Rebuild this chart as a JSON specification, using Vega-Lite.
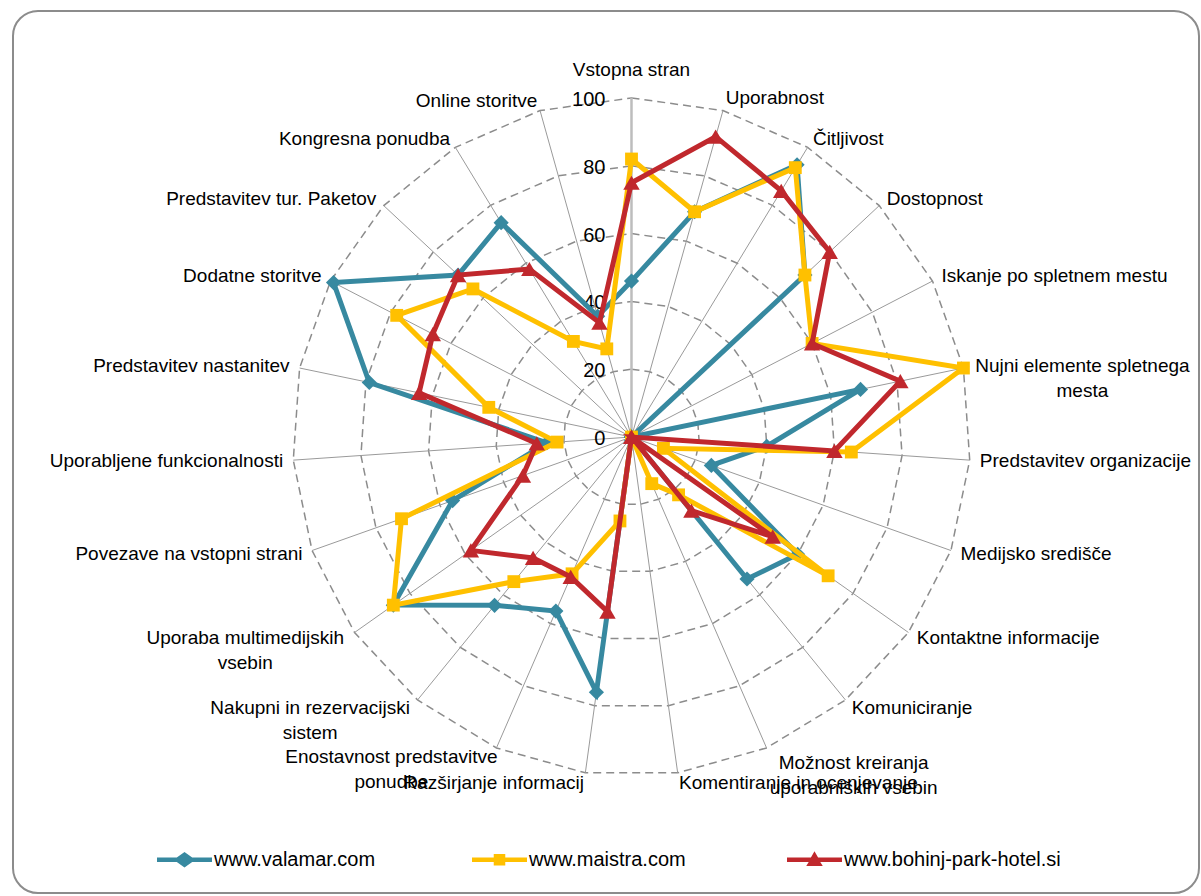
{
  "$schema": "https://vega.github.io/schema/vega-lite/v6.json",
  "width": 1186,
  "height": 882,
  "autosize": {"type": "none"},
  "padding": {"left": 13, "top": 11, "right": 2, "bottom": 3},
  "background": "#ffffff",
  "config": {"view": {"stroke": "#8c8c8c", "strokeWidth": 2, "cornerRadius": 25}},
  "datasets": {
    "scores": [
      {"site": "www.valamar.com", "idx": 0, "value": 46}, {"site": "www.valamar.com", "idx": 1, "value": 69}, {"site": "www.valamar.com", "idx": 2, "value": 94}, {"site": "www.valamar.com", "idx": 3, "value": 70}, {"site": "www.valamar.com", "idx": 4, "value": 0}, {"site": "www.valamar.com", "idx": 5, "value": 69}, {"site": "www.valamar.com", "idx": 6, "value": 40}, {"site": "www.valamar.com", "idx": 7, "value": 25}, {"site": "www.valamar.com", "idx": 8, "value": 60}, {"site": "www.valamar.com", "idx": 9, "value": 54}, {"site": "www.valamar.com", "idx": 10, "value": 0}, {"site": "www.valamar.com", "idx": 11, "value": 0}, {"site": "www.valamar.com", "idx": 12, "value": 76}, {"site": "www.valamar.com", "idx": 13, "value": 56}, {"site": "www.valamar.com", "idx": 14, "value": 64}, {"site": "www.valamar.com", "idx": 15, "value": 86}, {"site": "www.valamar.com", "idx": 16, "value": 56}, {"site": "www.valamar.com", "idx": 17, "value": 25}, {"site": "www.valamar.com", "idx": 18, "value": 79}, {"site": "www.valamar.com", "idx": 19, "value": 99}, {"site": "www.valamar.com", "idx": 20, "value": 70}, {"site": "www.valamar.com", "idx": 21, "value": 74}, {"site": "www.valamar.com", "idx": 22, "value": 37},
      {"site": "www.maistra.com", "idx": 0, "value": 82}, {"site": "www.maistra.com", "idx": 1, "value": 69}, {"site": "www.maistra.com", "idx": 2, "value": 93}, {"site": "www.maistra.com", "idx": 3, "value": 70}, {"site": "www.maistra.com", "idx": 4, "value": 60}, {"site": "www.maistra.com", "idx": 5, "value": 100}, {"site": "www.maistra.com", "idx": 6, "value": 65}, {"site": "www.maistra.com", "idx": 7, "value": 10}, {"site": "www.maistra.com", "idx": 8, "value": 71}, {"site": "www.maistra.com", "idx": 9, "value": 22}, {"site": "www.maistra.com", "idx": 10, "value": 15}, {"site": "www.maistra.com", "idx": 11, "value": 0}, {"site": "www.maistra.com", "idx": 12, "value": 25}, {"site": "www.maistra.com", "idx": 13, "value": 44}, {"site": "www.maistra.com", "idx": 14, "value": 55}, {"site": "www.maistra.com", "idx": 15, "value": 86}, {"site": "www.maistra.com", "idx": 16, "value": 72}, {"site": "www.maistra.com", "idx": 17, "value": 22}, {"site": "www.maistra.com", "idx": 18, "value": 43}, {"site": "www.maistra.com", "idx": 19, "value": 78}, {"site": "www.maistra.com", "idx": 20, "value": 64}, {"site": "www.maistra.com", "idx": 21, "value": 33}, {"site": "www.maistra.com", "idx": 22, "value": 27},
      {"site": "www.bohinj-park-hotel.si", "idx": 0, "value": 75}, {"site": "www.bohinj-park-hotel.si", "idx": 1, "value": 92}, {"site": "www.bohinj-park-hotel.si", "idx": 2, "value": 85}, {"site": "www.bohinj-park-hotel.si", "idx": 3, "value": 80}, {"site": "www.bohinj-park-hotel.si", "idx": 4, "value": 60}, {"site": "www.bohinj-park-hotel.si", "idx": 5, "value": 81}, {"site": "www.bohinj-park-hotel.si", "idx": 6, "value": 60}, {"site": "www.bohinj-park-hotel.si", "idx": 7, "value": 0}, {"site": "www.bohinj-park-hotel.si", "idx": 8, "value": 51}, {"site": "www.bohinj-park-hotel.si", "idx": 9, "value": 28}, {"site": "www.bohinj-park-hotel.si", "idx": 10, "value": 0}, {"site": "www.bohinj-park-hotel.si", "idx": 11, "value": 0}, {"site": "www.bohinj-park-hotel.si", "idx": 12, "value": 52}, {"site": "www.bohinj-park-hotel.si", "idx": 13, "value": 45}, {"site": "www.bohinj-park-hotel.si", "idx": 14, "value": 46}, {"site": "www.bohinj-park-hotel.si", "idx": 15, "value": 58}, {"site": "www.bohinj-park-hotel.si", "idx": 16, "value": 34}, {"site": "www.bohinj-park-hotel.si", "idx": 17, "value": 28}, {"site": "www.bohinj-park-hotel.si", "idx": 18, "value": 64}, {"site": "www.bohinj-park-hotel.si", "idx": 19, "value": 66}, {"site": "www.bohinj-park-hotel.si", "idx": 20, "value": 70}, {"site": "www.bohinj-park-hotel.si", "idx": 21, "value": 58}, {"site": "www.bohinj-park-hotel.si", "idx": 22, "value": 35}
    ],
    "cats": [
      {"idx": 0, "cat": "Vstopna stran"},
      {"idx": 1, "cat": "Uporabnost"},
      {"idx": 2, "cat": "Čitljivost"},
      {"idx": 3, "cat": "Dostopnost"},
      {"idx": 4, "cat": "Iskanje po spletnem mestu"},
      {"idx": 5, "cat": "Nujni elemente spletnega\nmesta"},
      {"idx": 6, "cat": "Predstavitev organizacije"},
      {"idx": 7, "cat": "Medijsko središče"},
      {"idx": 8, "cat": "Kontaktne informacije"},
      {"idx": 9, "cat": "Komuniciranje"},
      {"idx": 10, "cat": "Možnost kreiranja\nuporabniških vsebin"},
      {"idx": 11, "cat": "Komentiranje in ocenjevanje"},
      {"idx": 12, "cat": "Razširjanje informacij"},
      {"idx": 13, "cat": "Enostavnost predstavitve\nponudbe"},
      {"idx": 14, "cat": "Nakupni in rezervacijski\nsistem"},
      {"idx": 15, "cat": "Uporaba multimedijskih\nvsebin"},
      {"idx": 16, "cat": "Povezave na vstopni strani"},
      {"idx": 17, "cat": "Uporabljene funkcionalnosti"},
      {"idx": 18, "cat": "Predstavitev nastanitev"},
      {"idx": 19, "cat": "Dodatne storitve"},
      {"idx": 20, "cat": "Predstavitev tur. Paketov"},
      {"idx": 21, "cat": "Kongresna ponudba"},
      {"idx": 22, "cat": "Online storitve"}
    ],
    "grid": [
      {"level": 20, "idx": [0,1,2,3,4,5,6,7,8,9,10,11,12,13,14,15,16,17,18,19,20,21,22]},
      {"level": 40, "idx": [0,1,2,3,4,5,6,7,8,9,10,11,12,13,14,15,16,17,18,19,20,21,22]},
      {"level": 60, "idx": [0,1,2,3,4,5,6,7,8,9,10,11,12,13,14,15,16,17,18,19,20,21,22]},
      {"level": 80, "idx": [0,1,2,3,4,5,6,7,8,9,10,11,12,13,14,15,16,17,18,19,20,21,22]},
      {"level": 100, "idx": [0,1,2,3,4,5,6,7,8,9,10,11,12,13,14,15,16,17,18,19,20,21,22]}
    ],
    "ticks": [{"level": 0}, {"level": 20}, {"level": 40}, {"level": 60}, {"level": 80}, {"level": 100}]
  },
  "encoding": {
    "x": {"field": "px", "type": "quantitative", "scale": {"domain": [-182.448, 167.404], "nice": false, "zero": false}, "axis": null},
    "y": {"field": "py", "type": "quantitative", "scale": {"domain": [-134.513, 125.664], "nice": false, "zero": false}, "axis": null}
  },
  "layer": [
    {
      "data": {"name": "grid"},
      "transform": [
        {"flatten": ["idx"]},
        {"calculate": "datum.level*sin(datum.idx*2*PI/23)", "as": "px"},
        {"calculate": "datum.level*cos(datum.idx*2*PI/23)", "as": "py"}
      ],
      "mark": {"type": "line", "interpolate": "linear-closed", "stroke": "#8c8c8c", "strokeWidth": 1.5, "strokeDash": [8, 5]},
      "encoding": {"detail": {"field": "level", "type": "nominal"}, "order": {"field": "idx", "type": "quantitative"}}
    },
    {
      "data": {"name": "cats"},
      "transform": [
        {"filter": "datum.idx > 0"},
        {"calculate": "100*sin(datum.idx*2*PI/23)", "as": "px"},
        {"calculate": "100*cos(datum.idx*2*PI/23)", "as": "py"},
        {"calculate": "0", "as": "z"}
      ],
      "mark": {"type": "rule", "stroke": "#9a9a9a", "strokeWidth": 1},
      "encoding": {"x2": {"field": "z"}, "y2": {"field": "z"}}
    },
    {
      "data": {"name": "cats"},
      "transform": [
        {"filter": "datum.idx === 0"},
        {"calculate": "0", "as": "px"},
        {"calculate": "100", "as": "py"},
        {"calculate": "0", "as": "z"}
      ],
      "mark": {"type": "rule", "stroke": "#bdbdbd", "strokeWidth": 2.5},
      "encoding": {"x2": {"field": "z"}, "y2": {"field": "z"}}
    },
    {
      "data": {"name": "ticks"},
      "transform": [
        {"calculate": "0", "as": "px"},
        {"calculate": "datum.level", "as": "py"}
      ],
      "mark": {"type": "text", "align": "right", "baseline": "middle", "dx": -26, "dy": 2, "font": "Liberation Sans", "fontSize": 20, "color": "#000000"},
      "encoding": {"text": {"field": "level", "type": "quantitative"}}
    },
    {
      "data": {"name": "cats"},
      "transform": [
        {"calculate": "103*sin(datum.idx*2*PI/23)", "as": "px"},
        {"calculate": "103*cos(datum.idx*2*PI/23)", "as": "py"}
      ],
      "layer": [
        {
          "transform": [{"filter": "datum.idx === 0"}],
          "mark": {"type": "text", "align": "center", "baseline": "bottom", "dy": -8, "font": "Liberation Sans", "fontSize": 19, "color": "#000000"},
          "encoding": {"text": {"field": "cat"}}
        },
        {
          "transform": [{"filter": "datum.idx === 1"}],
          "mark": {"type": "text", "align": "left", "baseline": "middle", "dy": -3, "font": "Liberation Sans", "fontSize": 19, "color": "#000000"},
          "encoding": {"text": {"field": "cat"}}
        },
        {
          "transform": [{"filter": "indexof([2,3,4,6,7,8,9,11], datum.idx) >= 0"}],
          "mark": {"type": "text", "align": "left", "baseline": "middle", "font": "Liberation Sans", "fontSize": 19, "color": "#000000"},
          "encoding": {"text": {"field": "cat"}}
        },
        {
          "transform": [{"filter": "datum.idx === 5"}],
          "mark": {"type": "text", "align": "center", "baseline": "middle", "dx": 109, "lineBreak": "\n", "lineHeight": 25, "font": "Liberation Sans", "fontSize": 19, "color": "#000000"},
          "encoding": {"text": {"field": "cat"}}
        },
        {
          "transform": [{"filter": "datum.idx === 10"}],
          "mark": {"type": "text", "align": "center", "baseline": "middle", "dx": 83, "dy": 6, "lineBreak": "\n", "lineHeight": 25, "font": "Liberation Sans", "fontSize": 19, "color": "#000000"},
          "encoding": {"text": {"field": "cat"}}
        },
        {
          "transform": [{"filter": "indexof([12,16,17,18,19,20,21,22], datum.idx) >= 0"}],
          "mark": {"type": "text", "align": "right", "baseline": "middle", "font": "Liberation Sans", "fontSize": 19, "color": "#000000"},
          "encoding": {"text": {"field": "cat"}}
        },
        {
          "transform": [{"filter": "indexof([13,14,15], datum.idx) >= 0"}],
          "mark": {"type": "text", "align": "center", "baseline": "middle", "dx": -101, "lineBreak": "\n", "lineHeight": 25, "font": "Liberation Sans", "fontSize": 19, "color": "#000000"},
          "encoding": {"text": {"field": "cat"}}
        }
      ]
    },
    {
      "data": {"name": "scores"},
      "transform": [
        {"calculate": "datum.value*sin(datum.idx*2*PI/23)", "as": "px"},
        {"calculate": "datum.value*cos(datum.idx*2*PI/23)", "as": "py"}
      ],
      "layer": [
        {
          "transform": [{"filter": "datum.site === 'www.valamar.com'"}],
          "mark": {"type": "line", "interpolate": "linear-closed", "color": "#3789A0", "strokeWidth": 5, "point": {"shape": "diamond", "size": 230, "filled": true, "color": "#3789A0"}},
          "encoding": {"order": {"field": "idx", "type": "quantitative"}}
        },
        {
          "transform": [{"filter": "datum.site === 'www.maistra.com'"}],
          "mark": {"type": "line", "interpolate": "linear-closed", "color": "#FFC000", "strokeWidth": 5, "point": {"shape": "square", "size": 165, "filled": true, "color": "#FFC000"}},
          "encoding": {"order": {"field": "idx", "type": "quantitative"}}
        },
        {
          "transform": [{"filter": "datum.site === 'www.bohinj-park-hotel.si'"}],
          "mark": {"type": "line", "interpolate": "linear-closed", "color": "#C0282D", "strokeWidth": 5, "point": {"shape": "triangle-up", "size": 270, "filled": true, "color": "#C0282D"}},
          "encoding": {"order": {"field": "idx", "type": "quantitative"}}
        },
        {
          "transform": [{"filter": "datum.idx === 0"}],
          "mark": {"type": "point", "filled": true, "opacity": 0},
          "encoding": {
            "color": {
              "field": "site", "type": "nominal",
              "scale": {"domain": ["www.valamar.com", "www.maistra.com", "www.bohinj-park-hotel.si"], "range": ["#3789A0", "#FFC000", "#C0282D"]},
              "legend": {"orient": "none", "legendX": 144, "legendY": 821, "direction": "horizontal", "columns": 3, "gridAlign": "all", "columnPadding": 41, "symbolSize": 3025, "symbolOpacity": 1, "symbolStrokeWidth": 0, "labelFont": "Liberation Sans", "labelFontSize": 20, "labelColor": "#000000", "labelOffset": 2, "labelLimit": 400, "title": null, "padding": 0}
            },
            "shape": {
              "field": "site", "type": "nominal",
              "scale": {"domain": ["www.valamar.com", "www.maistra.com", "www.bohinj-park-hotel.si"], "range": [
                "M-1,-0.08L-0.28,-0.08L0,-0.28L0.28,-0.08L1,-0.08L1,0.08L0.28,0.08L0,0.28L-0.28,0.08L-1,0.08Z",
                "M-1,-0.08L-0.21,-0.08L-0.21,-0.21L0.21,-0.21L0.21,-0.08L1,-0.08L1,0.08L0.21,0.08L0.21,0.21L-0.21,0.21L-0.21,0.08L-1,0.08Z",
                "M-1,-0.08L-0.13,-0.08L0,-0.31L0.13,-0.08L1,-0.08L1,0.08L0.21,0.08L0.3,0.23L-0.3,0.23L-0.21,0.08L-1,0.08Z"
              ]},
              "legend": {"orient": "none", "legendX": 144, "legendY": 821, "direction": "horizontal", "columns": 3, "gridAlign": "all", "columnPadding": 41, "symbolSize": 3025, "symbolOpacity": 1, "symbolStrokeWidth": 0, "labelFont": "Liberation Sans", "labelFontSize": 20, "labelColor": "#000000", "labelOffset": 2, "labelLimit": 400, "title": null, "padding": 0}
            }
          }
        }
      ]
    }
  ]
}
